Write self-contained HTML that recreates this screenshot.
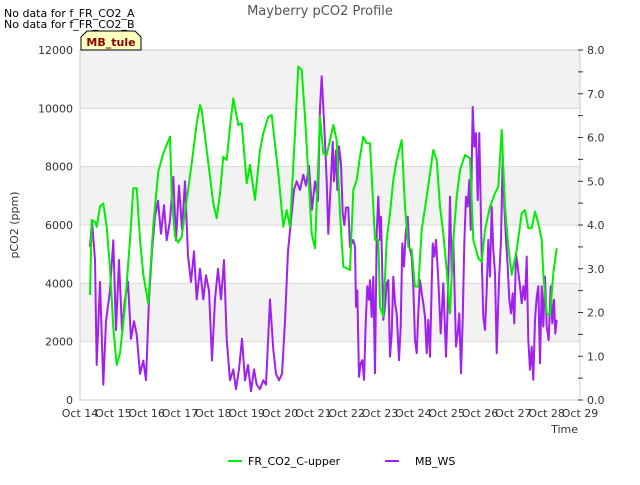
<!DOCTYPE html>
<html><head><meta charset="utf-8"><style>
body{margin:0;background:#fff;width:640px;height:480px;overflow:hidden}
svg{font-family:"DejaVu Sans","Liberation Sans",sans-serif}
</style></head><body>
<svg id="c" width="640" height="480" xmlns="http://www.w3.org/2000/svg">
<text x="4" y="17" font-size="11" fill="#000">No data for f_FR_CO2_A</text>
<text x="4" y="28" font-size="11" fill="#000">No data for f_FR_CO2_B</text>
<text x="320" y="15" font-size="13" fill="#555" text-anchor="middle">Mayberry pCO2 Profile</text>
<g id="plot"></g>
<path d="M81,50 L81,37 L87,31 L135,31 L141,37 L141,50 Z" fill="#ffffc0" stroke="#000" stroke-width="1"/>
<text x="111" y="46" font-size="11" font-weight="bold" fill="#8b0000" text-anchor="middle">MB_tule</text>
<text transform="translate(18,225) rotate(-90)" font-size="11" fill="#333" text-anchor="middle">pCO2 (ppm)</text>
<text x="578" y="433" font-size="11" fill="#333" text-anchor="end">Time</text>
<line x1="228" y1="461" x2="242" y2="461" stroke="#00ee00" stroke-width="2"/>
<text x="248" y="465" font-size="11" fill="#000">FR_CO2_C-upper</text>
<line x1="385" y1="461" x2="399" y2="461" stroke="#a020f0" stroke-width="2"/>
<text x="415" y="465" font-size="11" fill="#000">MB_WS</text>
</svg>
<script>
const xTickLabels=["Oct 14","Oct 15","Oct 16","Oct 17","Oct 18","Oct 19","Oct 20","Oct 21","Oct 22","Oct 23","Oct 24","Oct 25","Oct 26","Oct 27","Oct 28","Oct 29"];
const leftTicks=[0,2000,4000,6000,8000,10000,12000];
const rightTicks=[0,1,2,3,4,5,6,7,8];
const greenDays=[0.3,0.35,0.45,0.5,0.6,0.7,0.8,0.9,1.0,1.1,1.2,1.35,1.5,1.6,1.7,1.8,1.9,2.05,2.2,2.35,2.5,2.7,2.75,2.85,2.95,3.05,3.2,3.35,3.5,3.6,3.65,3.8,4.0,4.1,4.2,4.3,4.4,4.5,4.6,4.75,4.85,5.0,5.1,5.25,5.4,5.5,5.65,5.75,5.95,6.1,6.2,6.3,6.45,6.55,6.65,6.75,6.95,7.05,7.2,7.3,7.4,7.6,7.7,7.8,7.9,8.1,8.2,8.3,8.4,8.5,8.6,8.7,8.85,8.95,9.0,9.1,9.2,9.3,9.4,9.5,9.65,9.75,9.85,9.95,10.05,10.15,10.25,10.4,10.5,10.6,10.7,10.8,10.9,11.0,11.1,11.2,11.3,11.4,11.55,11.7,11.8,11.95,12.05,12.15,12.3,12.45,12.55,12.65,12.75,12.85,12.95,13.1,13.25,13.35,13.45,13.55,13.65,13.75,13.85,13.9,14.0,14.1,14.2,14.3];
const greenPpm=[3600,6170,6100,5940,6630,6740,5940,4500,2500,1200,1600,3200,5500,7260,7260,5500,4300,3300,6000,7830,8460,9030,7000,5600,5400,5600,6860,8110,9490,10110,9940,8570,6740,6230,7090,8340,8230,9370,10340,9430,9490,7430,8060,6860,8570,9140,9710,9770,7770,5940,6510,5940,9140,11430,11310,9710,5710,5200,9720,8460,8400,9430,8910,6400,4570,4460,7200,7540,8340,9030,8800,8800,5490,5490,3200,2860,5490,6400,7540,8230,8910,6630,5260,5140,3890,3890,5830,6970,7770,8570,8230,6630,5710,4460,2970,5490,6970,7880,8400,8290,5490,4860,4740,5830,6630,7090,7310,9260,6630,5260,4290,5140,6400,6510,5890,5890,6460,6060,5490,4340,2970,2910,4340,5200];
const wsDays=[0.3,0.36,0.45,0.5,0.6,0.7,0.78,0.9,1.0,1.08,1.17,1.26,1.35,1.44,1.53,1.62,1.7,1.8,1.9,1.98,2.07,2.16,2.25,2.34,2.43,2.52,2.6,2.7,2.8,2.88,2.97,3.06,3.15,3.24,3.33,3.42,3.5,3.6,3.7,3.78,3.87,3.96,4.05,4.14,4.23,4.32,4.4,4.5,4.6,4.68,4.77,4.86,4.95,5.04,5.13,5.22,5.3,5.4,5.5,5.58,5.7,5.8,5.88,5.97,6.06,6.15,6.24,6.33,6.42,6.5,6.6,6.7,6.78,6.87,6.96,7.05,7.14,7.2,7.25,7.3,7.35,7.4,7.45,7.5,7.58,7.62,7.68,7.72,7.77,7.83,7.88,7.93,7.98,8.05,8.1,8.2,8.25,8.28,8.32,8.37,8.42,8.47,8.52,8.57,8.62,8.67,8.7,8.75,8.8,8.85,8.9,8.95,9.0,9.03,9.07,9.1,9.15,9.2,9.25,9.3,9.35,9.4,9.45,9.5,9.57,9.62,9.67,9.72,9.77,9.83,9.88,9.95,10.0,10.05,10.1,10.15,10.2,10.25,10.3,10.35,10.4,10.45,10.5,10.58,10.63,10.68,10.75,10.82,10.9,10.98,11.03,11.1,11.15,11.2,11.28,11.33,11.38,11.43,11.48,11.53,11.58,11.63,11.68,11.72,11.78,11.83,11.88,11.93,11.98,12.05,12.1,12.15,12.2,12.25,12.3,12.35,12.4,12.45,12.5,12.57,12.63,12.68,12.73,12.78,12.83,12.88,12.93,12.98,13.03,13.08,13.13,13.2,13.25,13.3,13.35,13.4,13.45,13.5,13.55,13.6,13.65,13.7,13.75,13.8,13.85,13.9,13.95,14.0,14.06,14.12,14.17,14.22,14.26,14.3];
const wsValues=[3.5,4.1,3.2,0.8,2.7,0.35,1.8,2.5,3.65,1.6,3.2,1.6,2.3,2.7,1.4,1.8,1.5,0.6,0.9,0.45,2.3,3.4,4.2,4.55,3.8,4.45,3.65,4.1,5.1,3.65,4.9,3.9,5.0,3.3,2.7,3.4,2.3,3.0,2.3,2.85,2.5,0.9,2.3,3.0,2.3,3.2,1.4,0.45,0.7,0.25,0.7,1.4,0.45,0.8,0.2,0.7,0.35,0.25,0.45,0.35,2.3,1.15,0.6,0.45,0.6,1.8,3.4,4.1,4.8,5.0,4.8,5.15,4.9,5.35,4.35,5.0,4.55,6.7,7.4,6.7,5.9,5.0,3.8,4.6,5.9,5.0,5.7,4.8,5.8,5.4,4.27,4.0,4.4,4.4,3.5,3.66,3.5,2.13,2.5,0.53,0.84,0.91,0.46,1.75,2.6,2.29,2.74,1.9,2.82,0.61,3.81,4.65,3.66,4.19,2.9,1.83,2.13,2.67,2.74,0.99,1.52,2.82,2.21,1.98,0.91,1.68,3.58,3.05,3.81,4.19,3.5,3.28,2.6,1.37,1.07,1.98,2.74,2.44,2.21,1.9,1.07,1.83,0.99,3.58,3.28,3.66,2.74,1.52,2.67,0.99,2.13,4.65,2.9,3.66,1.22,1.52,1.98,0.61,1.83,3.58,4.65,4.42,5.03,3.89,6.7,5.79,6.1,4.57,6.1,3.28,1.9,1.6,2.51,3.66,2.82,4.42,3.43,2.9,1.07,2.74,3.66,5.56,4.42,3.66,3.05,2.29,1.98,2.44,1.75,3.35,3.05,2.6,2.21,2.6,2.29,3.28,1.37,0.69,1.22,0.46,1.83,2.36,2.6,0.84,2.6,1.68,2.82,1.68,1.37,2.6,1.75,2.29,1.52,1.83];

const NS="http://www.w3.org/2000/svg";
const L=80,R=580,T=50,B=400;
const xs=d=>L+d*(R-L)/15;
const yl=v=>B-v*(B-T)/12000;
const yr=v=>B-v*(B-T)/8;
const g=document.getElementById('plot');
function mk(tag,attrs){const e=document.createElementNS(NS,tag);for(const k in attrs)e.setAttribute(k,attrs[k]);g.appendChild(e);return e;}
// bands
for(let i=0;i<leftTicks.length-1;i++){
  const r=mk('rect',{x:L,y:yl(leftTicks[i+1]),width:R-L,height:yl(leftTicks[i])-yl(leftTicks[i+1]),fill:(i%2===1)?'#f2f2f2':'#ffffff'});
  
  
}
leftTicks.forEach(v=>{
  const ln=mk('line',{x1:L,x2:R,y1:yl(v),y2:yl(v),stroke:'#d8d8d8','stroke-width':1});
  
  
  const t=mk('text',{x:L-7,y:yl(v)+4,'font-size':11,fill:'#333','text-anchor':'end'});
  t.textContent=v;
  
  
});
const fr=mk('rect',{x:L,y:T,width:R-L,height:B-T,fill:'none',stroke:'#ccc'});


xTickLabels.forEach((s,i)=>{
  const t=mk('text',{x:xs(i),y:B+17,'font-size':11,fill:'#333','text-anchor':'middle'});
  t.textContent=s;
  
  
});
for(let v=0;v<=8;v+=0.5){
  const tk=mk('line',{x1:R-2,x2:R+3,y1:yr(v),y2:yr(v),stroke:'#333'});
  
  
}
rightTicks.forEach(v=>{
  const t=mk('text',{x:R+7,y:yr(v)+4,'font-size':11,fill:'#333'});
  t.textContent=v.toFixed(1);
  
  
});
const pw=mk('polyline',{points:wsDays.map((d,i)=>xs(d).toFixed(1)+','+yr(wsValues[i]).toFixed(1)).join(' '),fill:'none',stroke:'#a020f0','stroke-width':2,'stroke-linejoin':'round'});


const pg=mk('polyline',{points:greenDays.map((d,i)=>xs(d).toFixed(1)+','+yl(greenPpm[i]).toFixed(1)).join(' '),fill:'none',stroke:'#00ee00','stroke-width':2,'stroke-linejoin':'round'});


</script>
</body></html>
